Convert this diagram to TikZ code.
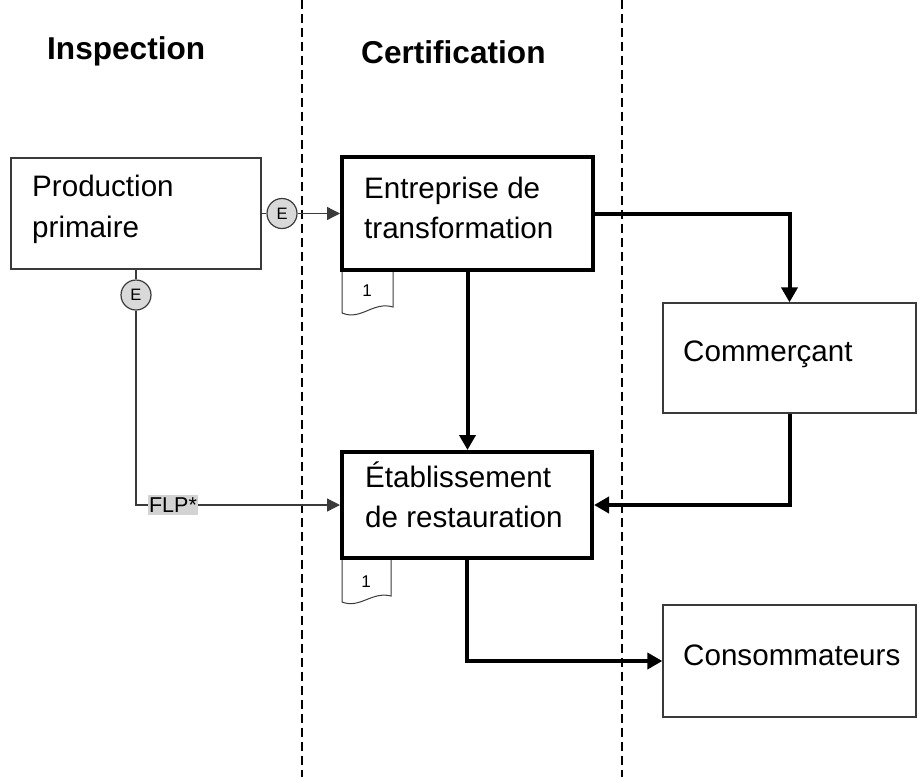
\documentclass[tikz,border=0pt]{standalone}
\usepackage{fontspec}
\setmainfont{Liberation Sans}
\usetikzlibrary{arrows.meta}
\definecolor{thinline}{HTML}{3A3A3A}
\definecolor{circfill}{HTML}{D9D9D9}
\definecolor{flpfill}{HTML}{D3D3D3}
\begin{document}
\begin{tikzpicture}[x=1pt,y=-1pt,
  thinbox/.style={draw=thinline,line width=1.3pt,fill=white,inner sep=0pt},
  thickbox/.style={draw=black,line width=4pt,fill=white,inner sep=0pt},
  lbl/.style={anchor=base west,inner sep=0pt,font=\fontsize{29.6}{35}\selectfont},
  title/.style={anchor=base west,inner sep=0pt,font=\fontsize{31.6}{38}\selectfont\bfseries},
  ecirc/.style={circle,draw=thinline,line width=1.2pt,fill=circfill,minimum size=30pt,inner sep=0pt,font=\fontsize{16.5}{18}\selectfont},
  thinconn/.style={draw=thinline,line width=1.3pt},
  thinarrow/.style={thinconn,-{Triangle[length=13pt,width=13pt]}},
  thickarrow/.style={draw=black,line width=4pt,-{Triangle[length=15pt,width=16pt]}},
  sep/.style={draw=black,line width=1.6pt,dash pattern=on 9pt off 5pt},
  docshape/.style={draw=thinline,line width=1pt,fill=white},
  doclbl/.style={inner sep=0pt,font=\fontsize{17}{19}\selectfont}
]
\useasboundingbox (0,0) rectangle (918,777);

% column separators
\draw[sep] (302,0) -- (302,777);
\draw[sep] (622,0) -- (622,777);

% titles
\node[title] (tinsp) at (47,59) {Inspection};
\node[title] (tcert) at (361,63) {Certification};

% boxes
\node[thinbox,minimum width=250pt,minimum height=111pt] (prod) at (136,213.5) {};
\node[thickbox,minimum width=251pt,minimum height=113pt] (entr) at (467.5,213.5) {};
\node[thinbox,minimum width=253pt,minimum height=110pt] (comm) at (789.5,358) {};
\node[thickbox,minimum width=250pt,minimum height=106pt] (etab) at (467,505) {};
\node[thinbox,minimum width=253pt,minimum height=112pt] (cons) at (789.5,661) {};

% box texts
\node[lbl] (prod1) at (32,196) {Production};
\node[lbl] (prod2) at (32,237) {primaire};
\node[lbl] (entr1) at (364,198) {Entreprise de};
\node[lbl] (entr2) at (364,238) {transformation};
\node[lbl] (comm1) at (683,361) {Commerçant};
\node[lbl] (etab1) at (365,487) {Établissement};
\node[lbl] (etab2) at (365,527) {de restauration};
\node[lbl] (cons1) at (683,665) {Consommateurs};

% document shapes
\draw[docshape] (342,272) -- (342,313) .. controls (361,321) and (373,301) .. (393,307) -- (393,272);
\node[doclbl] (doc1) at (367,291) {1};
\draw[docshape] (342,560) -- (342,602) .. controls (360,609) and (372,591) .. (391,596) -- (391,560);
\node[doclbl] (doc2) at (366,582) {1};

% E circles
\node[ecirc] (e1) at (282,213.5) {E};
\node[ecirc] (e2) at (136,295) {E};

% FLP label
\node[fill=flpfill,inner xsep=1pt,inner ysep=3pt,font=\fontsize{21.5}{24}\selectfont] (flp) at (173,505) {FLP*};

% thin connectors
\draw[thinconn] (prod.east) -- (e1.west);
\draw[thinarrow] (e1.east) -- (entr.west);
\draw[thinconn] (prod.south) -- (e2.north);
\draw[thinconn] (e2.south) |- (flp.west);
\draw[thinarrow] (flp.east) -- (etab.west);

% thick connectors
\draw[thickarrow] (entr.south) -- (entr.south |- etab.north);
\draw[thickarrow] (entr.east) -| (comm.north);
\draw[thickarrow] (comm.south) |- (etab.east);
\draw[thickarrow] (etab.south) |- (cons.west);
\end{tikzpicture}
\end{document}
